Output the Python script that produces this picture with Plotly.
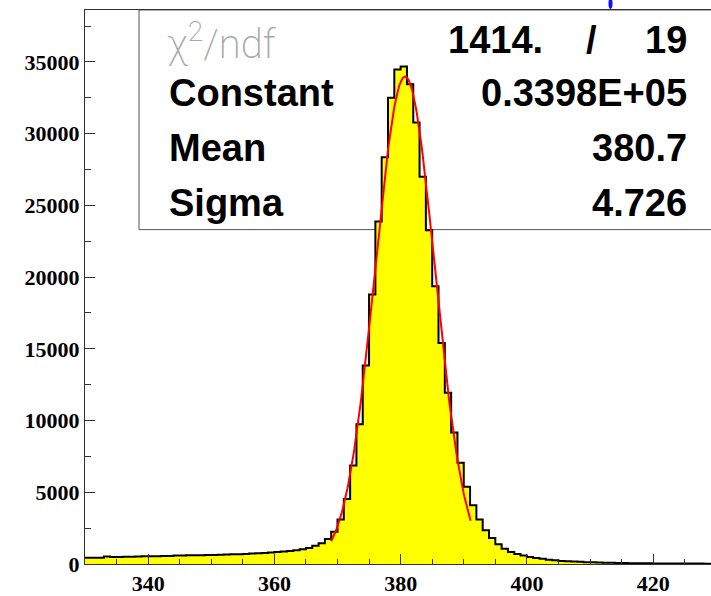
import numpy as np
import plotly.graph_objects as go

# ---- data ----
bin_low = list(range(330, 430))          # 1-unit bins, 330..430
counts = [
    430, 430, 440, 515, 495, 495, 500, 500, 515, 535,      # 330-339
    540, 545, 560, 565, 585, 590, 605, 610, 615, 630,      # 340-349
    635, 650, 655, 675, 680, 700, 740, 750, 770, 795,      # 350-359
    835, 865, 905, 955, 1020, 1120, 1270, 1440, 1750, 2250,  # 360-369
    3100, 4530, 6870, 9750, 13840, 18780, 23880, 28350, 32500, 34480,  # 370-379
    34690, 33450, 30780, 26990, 23270, 19360, 15400, 11930, 9170, 7060,  # 380-389
    5380, 4090, 3100, 2360, 1810, 1370, 1070, 840, 700, 590,  # 390-399
    495, 425, 360, 300, 260, 215, 190, 170, 150, 130,       # 400-409
    115, 100, 90, 80, 70, 65, 60, 55, 50, 45,               # 410-419
    42, 40, 38, 35, 33, 30, 28, 27, 25, 24,                 # 420-429
]
fit_constant = 0.3398e5
fit_mean = 380.7
fit_sigma = 4.726
fit_range = [369.0, 391.1]

stat_labels = ["Constant", "Mean", "Sigma"]
stat_values = ["0.3398E+05", "380.7", "4.726"]
chi2_value = "1414."
ndf_value = "19"

# ---- geometry helpers (pixel -> paper) ----
W, H = 711, 596
ML, MR, MT, MB = 85, 0, 10, 26
PW, PH = W - ML - MR, H - MT - MB


def px(x):
    return (x - ML) / PW


def py(y):
    return (H - MB - y) / PH


edges = bin_low + [bin_low[-1] + 1]
step_y = counts + [counts[-1]]

fig = go.Figure()
fig.add_trace(go.Scatter(
    x=edges, y=step_y, mode="lines", line_shape="hv",
    line=dict(color="black", width=2),
    fill="tozeroy", fillcolor="#ffff00", hoverinfo="skip", showlegend=False))

xf = np.linspace(fit_range[0], fit_range[1], 200)
yf = fit_constant * np.exp(-0.5 * ((xf - fit_mean) / fit_sigma) ** 2)
fig.add_trace(go.Scatter(x=xf, y=yf, mode="lines",
                         line=dict(color="#ff0000", width=2),
                         hoverinfo="skip", showlegend=False))

tickfont = dict(family="Liberation Serif", size=22, color="black", weight="bold")
fig.update_layout(
    width=W, height=H,
    margin=dict(l=ML, r=MR, t=MT, b=MB),
    paper_bgcolor="white", plot_bgcolor="white",
    xaxis=dict(range=[330, 330 + PW / 6.3125], tick0=340, dtick=20,
               ticks="inside", ticklen=10, tickcolor="#333", tickwidth=1,
               minor=dict(dtick=5, ticks="inside", ticklen=5, tickcolor="#333"),
               showgrid=False, zeroline=False, showline=True, linecolor="#333",
               linewidth=1, mirror=True, tickfont=tickfont),
    yaxis=dict(range=[0, 38620], tick0=0, dtick=5000, tickformat="d",
               ticks="inside", ticklen=10, tickcolor="#333", tickwidth=1,
               minor=dict(dtick=2500, ticks="inside", ticklen=6, tickcolor="#333"),
               showgrid=False, zeroline=False, showline=True, linecolor="#333",
               linewidth=1, tickfont=tickfont),
)

# stats box (drawn below the histogram)
fig.add_shape(type="rect", xref="paper", yref="paper",
              x0=px(139), x1=1.05, y0=py(232), y1=py(10),
              fillcolor="white", line=dict(color="#555", width=1), layer="below")
# small blue mark at top
fig.add_shape(type="circle", xref="paper", yref="paper",
              x0=px(608.5), x1=px(612.5), y0=py(9), y1=py(-2),
              fillcolor="#1010ff", line=dict(width=0))

bold = dict(family="Liberation Sans", size=38, color="black", weight="bold")
ann = []
ann.append(dict(text="χ<sup>2</sup>/ndf", x=px(165), y=py(42), xanchor="left",
                font=dict(family="Roboto", size=40, color="#a8a8a8", weight=200)))
ann.append(dict(text=chi2_value, x=px(545), y=py(40), xanchor="right", font=bold))
ann.append(dict(text="/", x=px(591), y=py(40), xanchor="center", font=bold))
ann.append(dict(text=ndf_value, x=px(689), y=py(40), xanchor="right", font=bold))
rows_y = [94, 149.5, 205]
for lab, val, yy in zip(stat_labels, stat_values, rows_y):
    ann.append(dict(text=lab, x=px(167), y=py(yy), xanchor="left", font=bold))
    ann.append(dict(text=val, x=px(689), y=py(yy), xanchor="right", font=bold))
for a in ann:
    a.update(xref="paper", yref="paper", yanchor="middle", showarrow=False)
fig.update_layout(annotations=ann)

fig.write_html("out.html")
